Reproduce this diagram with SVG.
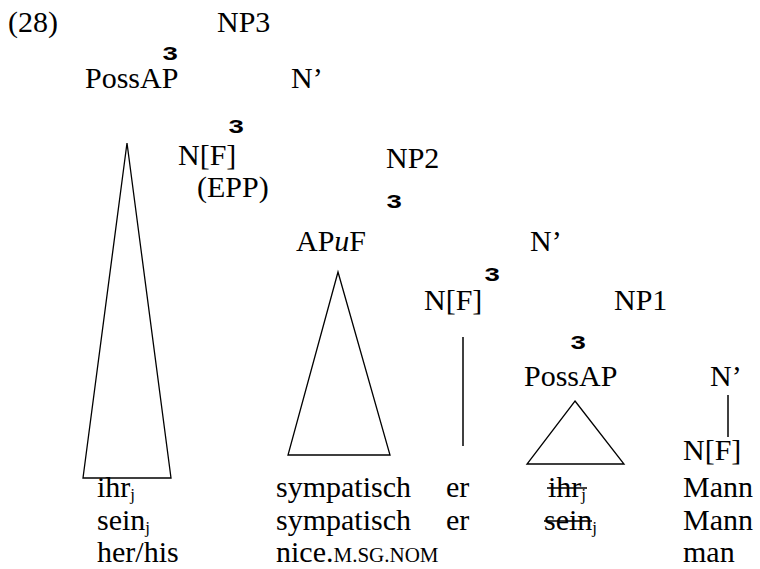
<svg xmlns="http://www.w3.org/2000/svg" width="760" height="569" viewBox="0 0 760 569">
<style>
text{font-family:'Liberation Serif','Times New Roman',serif;font-size:30px;fill:#000}
text.b{font-family:'Liberation Mono','Courier New',monospace;font-weight:bold;font-size:20px;text-anchor:middle}
.sub{font-size:17px}
.sc{font-size:21px}
.s{stroke:#000;stroke-width:1.5;fill:none}
.t{stroke:#000;stroke-width:1.3;fill:#fff}
</style>
<text x="8" y="32">(28)</text>
<g id="np3"><text x="217" y="32">NP3</text><text class="b" transform="translate(170,60) scale(1.35,1)">3</text></g>
<g id="possap1"><text x="85" y="88">PossAP</text></g>
<g id="nbar3"><text x="291" y="88">N’</text><text class="b" transform="translate(236,133) scale(1.35,1)">3</text></g>
<g id="nf3"><text x="178" y="165">N[F]</text><text x="197" y="197">(EPP)</text></g>
<g id="np2"><text x="386" y="168">NP2</text><text class="b" transform="translate(394,208) scale(1.35,1)">3</text></g>
<g id="apuf"><text x="296" y="251">AP<tspan font-style="italic">u</tspan>F</text></g>
<g id="nbar2"><text x="530" y="251">N’</text><text class="b" transform="translate(492,281) scale(1.35,1)">3</text></g>
<g id="nf2"><text x="424" y="310">N[F]</text></g>
<g id="np1"><text x="614" y="310">NP1</text><text class="b" transform="translate(578,349) scale(1.35,1)">3</text></g>
<g id="possap2"><text x="524" y="386">PossAP</text></g>
<g id="nbar1"><text x="710" y="386">N’</text></g>
<g id="nf1"><text x="683" y="460">N[F]</text></g>
<g id="connectors">
<polygon class="t" points="127,143 171,478 83,478"/>
<polygon class="t" points="338,272 390,455 288,455"/>
<polygon class="t" points="575,401 624,464 527,464"/>
<line class="s" x1="463" y1="337" x2="463" y2="446"/>
<line class="s" x1="728" y1="395" x2="728" y2="437"/>
</g>
<g id="words">
<text x="97" y="497">ihr<tspan class="sub" dy="3">j</tspan></text>
<text x="97" y="530">sein<tspan class="sub" dy="3">j</tspan></text>
<text x="97" y="562">her/his</text>
<text x="276" y="497">sympatisch</text>
<text x="446" y="497">er</text>
<text x="276" y="530">sympatisch</text>
<text x="446" y="530">er</text>
<text x="276" y="562">nice.<tspan class="sc">M.SG.NOM</tspan></text>
<text x="548" y="497">ihr<tspan class="sub" dy="3">j</tspan></text>
<text x="544" y="530">sein<tspan class="sub" dy="3">j</tspan></text>
<line class="s" x1="547" y1="488" x2="587" y2="488"/>
<line class="s" x1="544" y1="521" x2="592" y2="521"/>
<text x="683" y="497">Mann</text>
<text x="683" y="530">Mann</text>
<text x="683" y="562">man</text>
</g>
</svg>
